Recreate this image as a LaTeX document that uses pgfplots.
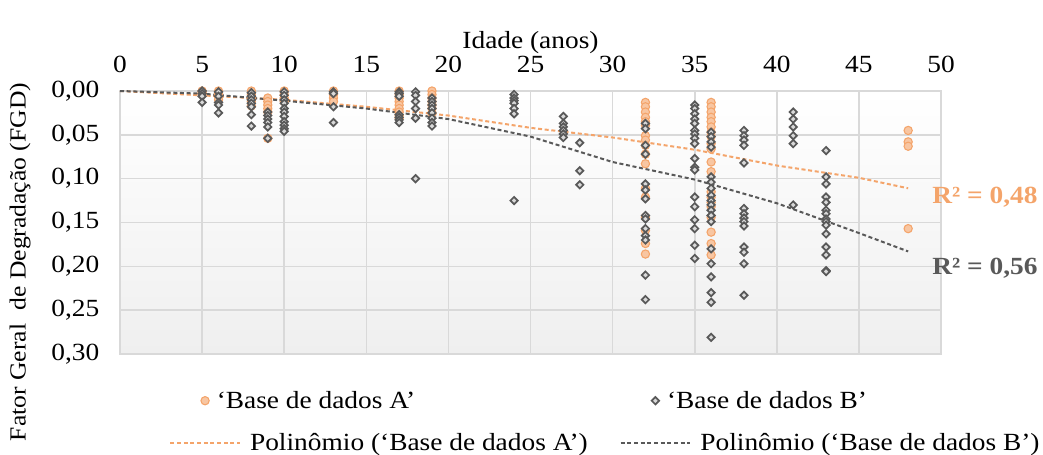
\documentclass[border=0pt]{standalone}
\usepackage{fontspec}
\setmainfont{Liberation Serif}[FakeStretch=1.11]
\usepackage{pgfplots}
\pgfplotsset{compat=1.18}
\definecolor{orA}{HTML}{F4A46A}
\definecolor{orAfill}{HTML}{F8C6A2}
\definecolor{grB}{HTML}{595959}
\definecolor{grBfill}{HTML}{D9D9D9}
\definecolor{gridc}{HTML}{D9D9D9}
\definecolor{bgbot}{HTML}{EFEFEF}

\pgfplotstableread{
x y
5 0.000
5 0.002
5 0.004
6 0.000
6 0.003
6 0.006
6 0.010
8 0.000
8 0.004
8 0.008
8 0.012
8 0.017
9 0.008
9 0.012
9 0.016
9 0.020
9 0.024
9 0.054
10 0.000
10 0.004
10 0.008
10 0.012
13 0.000
13 0.004
13 0.008
13 0.012
17 0.000
17 0.004
17 0.008
17 0.012
17 0.016
17 0.020
17 0.024
17 0.028
17 0.031
19 0.000
19 0.004
19 0.008
19 0.012
19 0.016
19 0.020
19 0.025
32 0.013
32 0.018
32 0.024
32 0.030
32 0.035
32 0.039
32 0.051
32 0.056
32 0.062
32 0.072
32 0.083
32 0.111
32 0.121
32 0.144
32 0.159
32 0.174
32 0.186
36 0.013
36 0.018
36 0.024
36 0.030
36 0.035
36 0.041
36 0.047
36 0.052
36 0.060
36 0.066
36 0.081
36 0.092
36 0.115
36 0.121
36 0.127
36 0.132
36 0.144
36 0.161
36 0.174
36 0.187
48 0.045
48 0.058
48 0.063
48 0.157
}\dataA

\pgfplotstableread{
x y
5 0.000
5 0.003
5 0.006
5 0.013
6 0.001
6 0.006
6 0.013
6 0.016
6 0.025
8 0.002
8 0.006
8 0.010
8 0.014
8 0.018
8 0.027
8 0.040
9 0.024
9 0.028
9 0.032
9 0.036
9 0.041
9 0.054
10 0.001
10 0.005
10 0.010
10 0.014
10 0.020
10 0.024
10 0.029
10 0.035
10 0.039
10 0.043
10 0.046
13 0.001
13 0.003
13 0.018
13 0.036
17 0.001
17 0.003
17 0.006
17 0.027
17 0.030
17 0.033
17 0.036
18 0.001
18 0.005
18 0.012
18 0.020
18 0.031
18 0.100
19 0.008
19 0.012
19 0.016
19 0.020
19 0.025
19 0.031
19 0.036
19 0.040
24 0.004
24 0.008
24 0.011
24 0.014
24 0.020
24 0.026
24 0.125
27 0.029
27 0.037
27 0.041
27 0.045
27 0.049
27 0.053
28 0.059
28 0.091
28 0.107
32 0.037
32 0.043
32 0.062
32 0.072
32 0.106
32 0.113
32 0.123
32 0.142
32 0.146
32 0.157
32 0.165
32 0.170
32 0.210
32 0.238
35 0.016
35 0.020
35 0.026
35 0.032
35 0.037
35 0.045
35 0.049
35 0.054
35 0.060
35 0.077
35 0.087
35 0.090
35 0.121
35 0.132
35 0.147
35 0.157
35 0.176
35 0.191
36 0.047
36 0.052
36 0.058
36 0.064
36 0.098
36 0.104
36 0.111
36 0.119
36 0.125
36 0.130
36 0.136
36 0.142
36 0.149
36 0.180
36 0.197
36 0.212
36 0.230
36 0.241
36 0.281
38 0.045
38 0.051
38 0.056
38 0.062
38 0.082
38 0.134
38 0.140
38 0.145
38 0.149
38 0.154
38 0.178
38 0.184
38 0.197
38 0.233
41 0.024
41 0.032
41 0.041
41 0.051
41 0.060
41 0.130
43 0.068
43 0.098
43 0.106
43 0.121
43 0.127
43 0.136
43 0.140
43 0.146
43 0.149
43 0.153
43 0.163
43 0.178
43 0.187
43 0.205
43 0.206
}\dataB

\begin{document}
\begin{tikzpicture}[font=\fontsize{18.5pt}{22pt}\selectfont]
\begin{axis}[
  name=ax,
  scale only axis,
  width=615.75pt, height=197.25pt,
  xmin=0, xmax=50, ymin=0, ymax=0.30,
  y dir=reverse,
  xticklabel pos=upper,
  xtick={0,5,10,15,20,25,30,35,40,45,50},
  ytick={0,0.05,0.10,0.15,0.20,0.25,0.30},
  /pgf/number format/assume math mode=true,
  y tick label style={/pgf/number format/.cd, fixed, fixed zerofill, precision=2, use comma, assume math mode=true, /tikz/.cd, xshift=-12pt},
  x tick label style={yshift=10pt},
  grid=major,
  major grid style={draw=gridc, line width=1.2pt},
  axis line style={draw=gridc, line width=1.2pt},
  major tick length=0pt,
  tick style={draw=none},
  axis background/.style={top color=white, bottom color=bgbot},
  clip=false,
  legend image code/.code={\draw[mark repeat=2,mark phase=2,#1] plot coordinates {(0pt,0pt) (26pt,0pt) (52pt,0pt)};},
  legend style={at={(0.055,-0.12)}, anchor=north west, draw=none, fill=none,
    legend columns=2, /tikz/row sep=13pt,
    /tikz/every odd column/.append style={column sep=5pt},
    /tikz/every even column/.append style={column sep=22pt}},
  legend cell align=left,
]
\addplot[only marks, mark=*, mark size=3.1pt, mark options={draw=orA, fill=orAfill, line width=0.8pt}] table[x=x,y=y] {\dataA};
\addlegendentry{\hspace*{-25pt}‘Base de dados A’}
\addplot[only marks, mark=square*, mark size=1.95pt, mark options={draw=grB, fill=grBfill, line width=1.3pt, rotate=45}] table[x=x,y=y] {\dataB};
\addlegendentry{\hspace*{-25pt}‘Base de dados B’}
\addplot[orA, line width=1.5pt, dash pattern=on 3pt off 2pt, mark=none] coordinates {
(0,0) (5,0.005) (10,0.010) (15,0.018) (20,0.028) (25,0.042) (30,0.053) (35,0.067) (40,0.085) (45,0.099) (48,0.111)};
\addlegendentry{Polinômio (‘Base de dados A’)}
\addplot[grB, line width=1.5pt, dash pattern=on 3pt off 2pt, mark=none] coordinates {
(0,0) (5,0.003) (10,0.011) (15,0.020) (20,0.032) (25,0.052) (30,0.081) (35,0.101) (40,0.128) (45,0.162) (48,0.183)};
\addlegendentry{Polinômio (‘Base de dados B’)}
\end{axis}
\node at ([yshift=36.5pt]ax.north) {Idade (anos)};
\node[rotate=90, font=\fontsize{17.3pt}{20pt}\selectfont] at ([xshift=-75pt,yshift=69pt]ax.south west) {Fator Geral\hspace{0.3em} de Degradação (FGD)};
\node[text=orA, font=\fontsize{18.5pt}{22pt}\selectfont\bfseries] at ([xshift=33pt,yshift=-79.5pt]ax.north east) {R² = 0,48};
\node[text=grB, font=\fontsize{18.5pt}{22pt}\selectfont\bfseries] at ([xshift=33pt,yshift=-132.75pt]ax.north east) {R² = 0,56};
\pgfresetboundingbox
\path ([xshift=-90pt,yshift=-75.75pt]ax.south west) rectangle ([xshift=76.5pt,yshift=68.25pt]ax.north east);
\end{tikzpicture}
\end{document}
